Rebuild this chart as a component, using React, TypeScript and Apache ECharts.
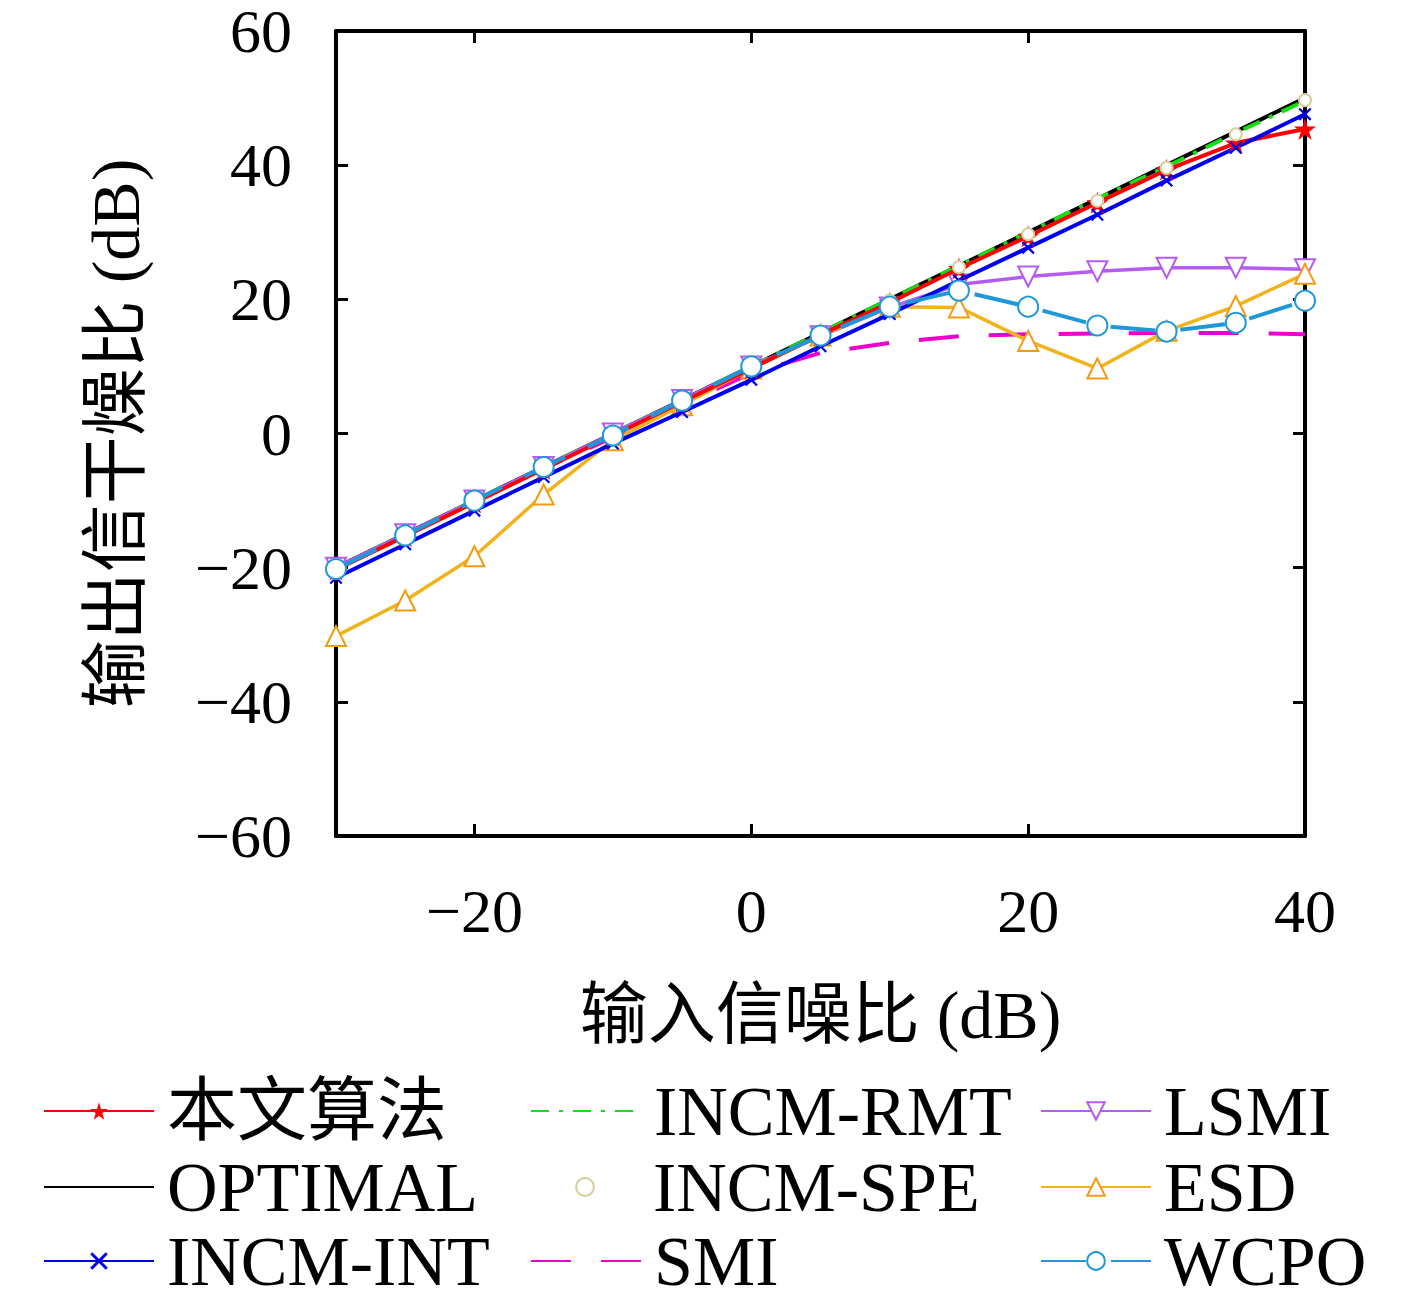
import { useEffect, useRef } from "react";
import * as echarts from "echarts";

// SNR d'entrée (dB)
const snrIn = [-30, -25, -20, -15, -10, -5, 0, 5, 10, 15, 20, 25, 30, 35, 40];

const proposed = [-20.3, -15.3, -10.3, -5.3, -0.3, 4.7, 9.7, 14.7, 19.5, 24.6, 29.4, 34.4, 39.3, 43.3, 45.4];
const optimal = [-20, -15, -10, -5, 0, 5, 10, 15, 20, 25, 30, 35, 40, 45, 50];
const incmInt = [-21.5, -16.5, -11.5, -6.5, -1.5, 3.2, 8, 13, 17.8, 22.8, 27.7, 32.6, 37.7, 42.6, 47.6];
const incmRmt = [-20, -15, -10, -5, 0, 5, 10, 15, 20, 25, 30, 35, 39.8, 44.8, 49.6];
const incmSpe = [-20, -15, -10, -5, 0, 5, 10, 15, 19.8, 24.8, 29.7, 34.7, 39.6, 44.6, 49.7];
const smi = [-20, -15, -10, -5.2, -0.6, 4.3, 9, 12, 13.5, 14.5, 14.8, 14.9, 15, 15, 14.8];
const lsmi = [-20, -15, -10, -5, 0, 5, 10, 14.5, 18.8, 22.2, 23.4, 24.2, 24.7, 24.7, 24.5];
const esd = [-30.2, -24.9, -18.3, -9.1, -1, 4.2, 9.7, 14.6, 18.9, 18.8, 13.8, 9.7, 15.3, 19, 23.8];
const wcpo = [-20.2, -15.2, -10, -5, -0.3, 4.9, 10, 14.6, 18.9, 21.3, 18.9, 16.1, 15.2, 16.5, 19.8];

const xTicks = [-20, 0, 20, 40];

// légende : 3 colonnes x 3 lignes
const legendCols = [
    ["本文算法", "OPTIMAL", "INCM-INT"],
    ["INCM-RMT", "INCM-SPE", "SMI"],
    ["LSMI", "ESD", "WCPO"],
];
const lineOnly = ["OPTIMAL", "INCM-RMT", "SMI"];

const STAR = "path://M50,0 L61,35 L98,35 L68,57 L79,91 L50,70 L21,91 L32,57 L2,35 L39,35 Z";
const CROSS = "path://M0,12 L12,0 L50,38 L88,0 L100,12 L62,50 L100,88 L88,100 L50,62 L12,100 L0,88 L38,50 Z";

const FONT = "'Liberation Serif', 'Noto Sans CJK SC', serif";

const fmt = (v: number) => (v < 0 ? "\u2212" + Math.abs(v) : String(v));

export default function App() {
    const chartRef = useRef<HTMLDivElement>(null);

    useEffect(() => {
        if (!chartRef.current) return;
        const chart = echarts.init(chartRef.current, null, { renderer: "svg" });

        const pts = (ys: number[]) => snrIn.map((x, i) => [x, ys[i]]);

        const axisCommon = {
            axisLine: { show: true, onZero: false, lineStyle: { color: "#000", width: 4 } },
            axisTick: { inside: true, length: 12, lineStyle: { color: "#000", width: 3 } },
            splitLine: { show: false },
        };

        // une légende par entrée, placée à la main
        const colLeft = [43, 530, 1040];
        const rowMid = [1112, 1188, 1262];
        const legends = legendCols.flatMap((col, c) =>
            col.map((name, r) => ({
                orient: "vertical",
                left: colLeft[c],
                top: rowMid[r] - 36,
                padding: 0,
                itemWidth: 110,
                itemHeight: 22,
                selectedMode: false,
                textStyle: {
                    fontFamily: FONT,
                    fontSize: 70,
                    color: "#000",
                    padding: [0, 0, 0, 8],
                },
                data: [lineOnly.includes(name) ? { name, itemStyle: { opacity: 0 } } : name],
            }))
        );

        const option = {
            animation: false,
            backgroundColor: "#fff",
            grid: { left: 336, right: 112, top: 30, bottom: 454 },
            xAxis: [
                {
                    type: "value",
                    min: -30,
                    max: 40,
                    ...axisCommon,
                    axisTick: { ...axisCommon.axisTick, customValues: xTicks },
                    axisLabel: {
                        customValues: xTicks,
                        formatter: fmt,
                        fontFamily: FONT,
                        fontSize: 62,
                        color: "#000",
                        margin: 44,
                    },
                    name: "输入信噪比 (dB)",
                    nameLocation: "middle",
                    nameGap: 145,
                    nameTextStyle: { fontFamily: FONT, fontSize: 68, color: "#000" },
                },
                {
                    type: "value",
                    position: "top",
                    min: -30,
                    max: 40,
                    ...axisCommon,
                    axisTick: { ...axisCommon.axisTick, customValues: xTicks },
                    axisLabel: { show: false },
                },
            ],
            yAxis: [
                {
                    type: "value",
                    min: -60,
                    max: 60,
                    interval: 20,
                    ...axisCommon,
                    axisLabel: {
                        formatter: fmt,
                        fontFamily: FONT,
                        fontSize: 62,
                        color: "#000",
                        margin: 44,
                    },
                    name: "输出信干燥比 (dB)",
                    nameLocation: "middle",
                    nameRotate: 90,
                    nameGap: 186,
                    nameTextStyle: { fontFamily: FONT, fontSize: 68, color: "#000" },
                },
                {
                    type: "value",
                    position: "right",
                    min: -60,
                    max: 60,
                    interval: 20,
                    ...axisCommon,
                    axisLabel: { show: false },
                },
            ],
            legend: legends,
            series: [
                {
                    name: "本文算法",
                    type: "line",
                    data: pts(proposed),
                    symbol: STAR,
                    symbolSize: 22,
                    lineStyle: { color: "#ff0000", width: 4 },
                    itemStyle: { color: "#ff0000" },
                    z: 4,
                },
                {
                    name: "OPTIMAL",
                    type: "line",
                    data: pts(optimal),
                    symbol: "none",
                    lineStyle: { color: "#000", width: 4 },
                    itemStyle: { color: "#000" },
                    z: 3,
                },
                {
                    name: "INCM-INT",
                    type: "line",
                    data: pts(incmInt),
                    symbol: CROSS,
                    symbolSize: 13,
                    lineStyle: { color: "#0000ee", width: 4 },
                    itemStyle: { color: "#0000ee" },
                    z: 4,
                },
                {
                    name: "INCM-RMT",
                    type: "line",
                    data: pts(incmRmt),
                    symbol: "none",
                    lineStyle: { color: "#11e011", width: 4, type: [18, 10, 4, 10] },
                    itemStyle: { color: "#11e011" },
                    z: 3,
                },
                {
                    name: "INCM-SPE",
                    type: "line",
                    data: pts(incmSpe),
                    symbol: "emptyCircle",
                    symbolSize: 12,
                    lineStyle: { opacity: 0, width: 0 },
                    itemStyle: { color: "#d6cf9c", borderColor: "#d6cf9c", borderWidth: 3 },
                    z: 5,
                },
                {
                    name: "SMI",
                    type: "line",
                    data: pts(smi),
                    symbol: "none",
                    lineStyle: { color: "#ee00cc", width: 4, type: [40, 30] },
                    itemStyle: { color: "#ee00cc" },
                    z: 3,
                },
                {
                    name: "LSMI",
                    type: "line",
                    data: pts(lsmi),
                    symbol: "emptyTriangle",
                    symbolRotate: 180,
                    symbolSize: 20,
                    lineStyle: { color: "#b45cf0", width: 3.5 },
                    itemStyle: { color: "#b45cf0", borderColor: "#b45cf0", borderWidth: 2.5 },
                    z: 3,
                },
                {
                    name: "ESD",
                    type: "line",
                    data: pts(esd),
                    symbol: "emptyTriangle",
                    symbolSize: 20,
                    lineStyle: { color: "#f2b21b", width: 3.5 },
                    itemStyle: { color: "#f59a0f", borderColor: "#f59a0f", borderWidth: 2.5 },
                    z: 3,
                },
                {
                    name: "WCPO",
                    type: "line",
                    data: pts(wcpo),
                    symbol: "emptyCircle",
                    symbolSize: 20,
                    lineStyle: { color: "#1f98d8", width: 4, type: [45, 25] },
                    itemStyle: { color: "#1f98d8", borderColor: "#1f98d8", borderWidth: 4 },
                    z: 6,
                },
            ],
        };

        chart.setOption(option);

        return () => {
            chart.dispose();
        };
    }, []);

    return (
        <div
            ref={chartRef}
            style={{ position: "absolute", left: 0, top: 0, width: 1417, height: 1290 }}
        />
    );
}
